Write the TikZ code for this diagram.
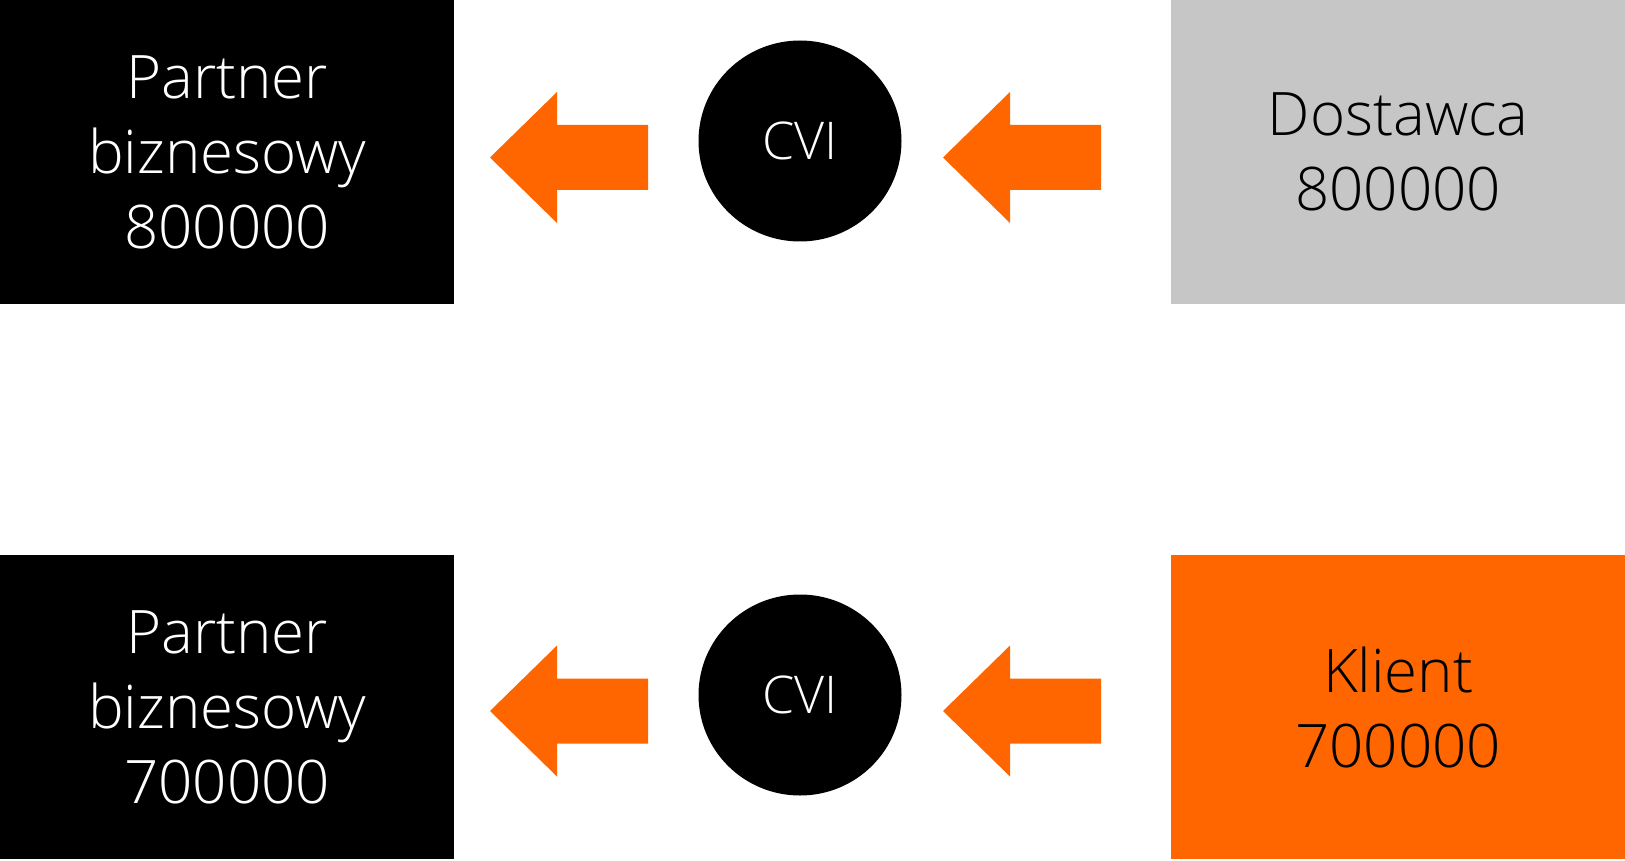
\documentclass[tikz,border=0pt]{standalone}
\usepackage{fontspec}
\usetikzlibrary{shapes.geometric}
\setmainfont{Open Sans Light}
\definecolor{og}{HTML}{FF6600}
\definecolor{gr}{HTML}{C6C6C6}
\newcommand{\blkarrow}[2]{%
  \fill[og] (#1,#2) -- ++(67,-65.5) -- ++(0,33) -- ++(91,0) -- ++(0,65) -- ++(-91,0) -- ++(0,33) -- cycle;}
\begin{document}
\begin{tikzpicture}[x=1pt,y=-1pt,
  box/.style={rectangle, minimum width=454pt, minimum height=304pt, inner sep=0pt,
    align=center, anchor=north west, font=\fontsize{60}{75}\selectfont},
  cvi/.style={ellipse, minimum width=203pt, minimum height=201pt, inner sep=0pt, fill=black, text=white,
    font=\fontsize{52}{56}\selectfont}]
\useasboundingbox (0,0) rectangle (1625,861);
\node[box, fill=black, text=white] (p1) at (0,0) {Partner\\biznesowy\\800000};
\node[box, fill=gr, text=black] (d) at (1171,0) {Dostawca\\800000};
\node[box, fill=black, text=white] (p2) at (0,555) {Partner\\biznesowy\\700000};
\node[box, fill=og, text=black] (k) at (1171,555) {Klient\\700000};
\node[cvi] (c1) at (800,141) {CVI};
\node[cvi] (c2) at (800,695) {CVI};
\blkarrow{490}{157.5}
\blkarrow{943}{157.5}
\blkarrow{490}{711}
\blkarrow{943}{711}
\end{tikzpicture}
\end{document}
